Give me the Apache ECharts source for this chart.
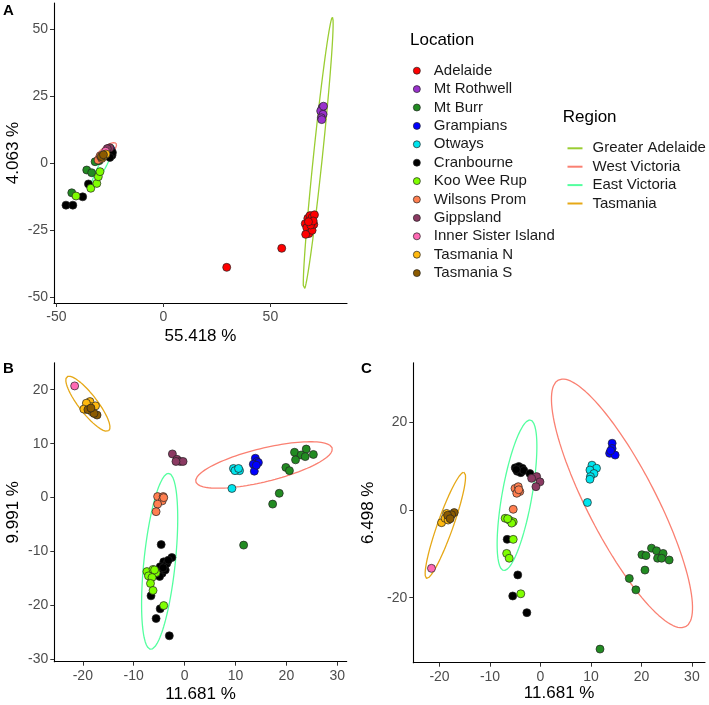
<!DOCTYPE html>
<html>
<head>
<meta charset="utf-8">
<script src="https://cdn.jsdelivr.net/npm/echarts@6/dist/echarts.min.js"></script>
<style>
html,body{margin:0;padding:0;background:#fff;}
#chart{width:709px;height:705px;}
</style>
</head>
<body>
<div id="chart"></div>
<script>
// ---------- categories ----------
const locations = ['Adelaide','Mt Rothwell','Mt Burr','Grampians','Otways','Cranbourne','Koo Wee Rup','Wilsons Prom','Gippsland','Inner Sister Island','Tasmania N','Tasmania S'];
const locationColors = ['#FF0000','#9932CC','#228B22','#0000FF','#00E5EE','#000000','#7FFF00','#FF7F50','#8B3A62','#FF69B4','#FFB90F','#8B5A00'];
const regions = ['Greater Adelaide','West Victoria','East Victoria','Tasmania'];
const regionColors = ['#9ACD32','#FA8072','#54FF9F','#E6A817'];

// ---------- axis titles & ticks ----------
const axisTitlesA = ['55.418 %','4.063 %'];
const axisTitlesB = ['11.681 %','9.991 %'];
const axisTitlesC = ['11.681 %','6.498 %'];
const ticksAx = [-50,0,50];
const ticksAy = [-50,-25,0,25,50];
const ticksBx = [-20,-10,0,10,20,30];
const ticksBy = [-30,-20,-10,0,10,20];
const ticksCx = [-20,-10,0,10,20,30];
const ticksCy = [-20,0,20];

// ---------- Panel A points (PC1 vs PC2) ----------
const A_Adelaide = [[29.6,-38.8],[55.3,-31.7],[66.3,-22.5],[67.5,-20.5],[68.5,-19.5],[69.5,-20.2],[70.6,-19.2],[67.0,-24.0],[68.0,-26.2],[69.5,-25.0],[70.3,-22.8],[66.5,-26.5],[68.8,-23.0],[70.0,-21.5],[67.8,-21.8]];
const A_MtRothwell = [[74.2,20.8],[73.5,19.5],[74.6,18.3],[73.8,17.0],[74.8,21.3],[74.0,16.3]];
const A_MtBurr = [[-42.8,-11.0],[-35.8,-2.5],[-33.5,-3.5],[-31.9,0.6],[-30.0,1.0]];
const A_Grampians = [[-25.5,4.5],[-24.5,5.2],[-26.0,4.8]];
const A_Otways = [[-26.0,3.8],[-27.0,3.2]];
const A_Cranbourne = [[-45.5,-15.6],[-42.3,-15.6],[-37.7,-12.5],[-35.0,-7.7],[-24.0,3.0],[-23.8,4.0],[-25.0,2.2]];
const A_KooWeeRup = [[-40.8,-12.2],[-33.9,-9.3],[-31.1,-7.5],[-30.4,-5.0],[-29.6,-3.1]];
const A_WilsonsProm = [[-30.5,1.2],[-29.5,2.8],[-28.8,1.8]];
const A_Gippsland = [[-25.0,5.8],[-26.2,5.5]];
const A_InnerSister = [[-27.0,4.5]];
const A_TasmaniaN = [[-28.5,2.2],[-27.8,2.8],[-26.8,3.5]];
const A_TasmaniaS = [[-29.0,2.5],[-28.0,3.2]];

// ---------- Panel B points ----------
const B_MtBurr = [[21.6,8.4],[23.9,9.0],[25.3,8.0],[22.9,7.9],[23.7,7.6],[21.8,7.0],[19.9,5.6],[20.6,5.0],[18.6,0.8],[17.3,-1.2],[11.6,-8.8]];
const B_Grampians = [[13.9,7.3],[14.2,6.7],[14.5,6.5],[13.5,6.2],[13.7,4.9],[14.1,6.0]];
const B_Otways = [[9.6,5.4],[10.3,5.1],[10.8,5.0],[9.9,5.0],[10.6,5.4],[9.3,1.7]];
const B_Cranbourne = [[-4.6,-8.7],[-2.5,-11.1],[-4.1,-11.9],[-4.8,-12.8],[-4.4,-14.0],[-4.9,-14.6],[-3.8,-13.4],[-3.5,-12.2],[-3.2,-11.6],[-4.2,-13.0],[-6.6,-18.2],[-4.8,-20.6],[-5.6,-22.4],[-3.0,-25.6]];
const B_KooWeeRup = [[-7.4,-13.7],[-6.2,-13.3],[-5.6,-13.9],[-7.1,-14.5],[-6.4,-14.8],[-6.7,-15.9],[-6.2,-17.2],[-4.1,-20.0],[-5.9,-13.4]];
const B_WilsonsProm = [[-5.3,0.2],[-4.2,0.2],[-4.4,-0.6],[-5.3,-1.2],[-5.6,-2.6],[-4.1,0.0]];
const B_Gippsland = [[-2.4,8.1],[-1.5,7.1],[-0.85,6.7],[-0.3,6.7],[-1.7,6.7]];
const B_InnerSister = [[-21.6,20.7]];
const B_TasmaniaN = [[-18.6,17.8],[-19.5,16.4],[-18.5,16.9],[-17.5,17.0],[-18.2,15.9],[-19.3,17.5],[-19.8,16.4]];
const B_TasmaniaS = [[-17.2,15.3],[-17.8,15.6],[-19.0,16.3],[-18.4,16.6]];

// ---------- Panel C points ----------
const C_MtBurr = [[22.0,-8.7],[23.0,-9.3],[24.3,-9.9],[20.1,-10.2],[20.9,-10.4],[23.2,-11.0],[24.0,-11.0],[25.5,-11.4],[20.7,-13.7],[17.6,-15.6],[18.9,-18.2],[11.8,-31.7]];
const C_Grampians = [[14.2,15.2],[14.2,14.0],[13.7,12.9],[14.8,12.5],[13.9,13.5]];
const C_Otways = [[10.2,10.2],[11.1,9.5],[9.8,9.1],[10.6,8.3],[9.9,7.6],[9.8,7.0],[9.3,1.7]];
const C_Cranbourne = [[-5.0,9.6],[-4.3,9.9],[-3.6,9.5],[-4.6,8.8],[-3.9,8.5],[-3.3,9.0],[-4.8,9.2],[-2.1,8.3],[-6.6,-6.7],[-4.5,-14.8],[-5.5,-19.6],[-2.7,-23.4]];
const C_KooWeeRup = [[-7.0,-1.9],[-6.2,-2.3],[-5.4,-2.7],[-5.7,-3.0],[-6.5,-2.0],[-5.4,-6.7],[-6.7,-9.9],[-6.2,-11.0],[-3.9,-19.1]];
const C_WilsonsProm = [[-5.05,4.9],[-4.4,5.3],[-4.1,4.2],[-4.7,3.8],[-4.3,4.6],[-5.4,0.15]];
const C_Gippsland = [[-0.76,7.6],[-1.75,7.2],[-0.1,6.4],[-0.9,5.3]];
const C_InnerSister = [[-21.6,-13.3]];
const C_TasmaniaN = [[-19.6,-2.9],[-18.6,-0.8],[-17.9,-1.5],[-18.9,-1.9],[-18.3,-2.3]];
const C_TasmaniaS = [[-17.1,-0.6],[-17.6,-1.1],[-18.4,-1.2],[-17.9,-2.0]];

// ---------- region ellipses: [cx, cy, ux, uy, vx, vy] (centre, semi-axis vectors) ----------
const A_ellipses = [[72.35,3.6,6.65,50.9,2.1,0],[-27.0,4.05,4.9,3.45,1.54,-1.4],[-28.45,-0.95,5.05,7.75,1.45,-0.6],[-27.5,3.2,2.0,1.6,0.6,-0.6]];
const B_ellipses = [null,[15.6,6.05,13.4,3.09,0.77,-3.0],[-4.9,-11.8,1.73,16.3,3.1,0],[-19.0,17.4,4.1,-5.0,-1.43,-1.04]];
const C_ellipses = [null,[16.15,1.5,12.6,-28.1,-6.05,-3.59],[-4.65,3.35,2.55,17.15,3.0,0],[-18.85,-3.5,3.65,12.1,1.65,0]];

const panelPoints = [
  [A_Adelaide,A_MtRothwell,A_MtBurr,A_Grampians,A_Otways,A_Cranbourne,A_KooWeeRup,A_WilsonsProm,A_Gippsland,A_InnerSister,A_TasmaniaN,A_TasmaniaS],
  [[],[],B_MtBurr,B_Grampians,B_Otways,B_Cranbourne,B_KooWeeRup,B_WilsonsProm,B_Gippsland,B_InnerSister,B_TasmaniaN,B_TasmaniaS],
  [[],[],C_MtBurr,C_Grampians,C_Otways,C_Cranbourne,C_KooWeeRup,C_WilsonsProm,C_Gippsland,C_InnerSister,C_TasmaniaN,C_TasmaniaS]
];
const panelEllipses = [A_ellipses,B_ellipses,C_ellipses];

function ellipseOutline(p){
  const pts=[]; const n=120;
  for(let k=0;k<=n;k++){
    const t=2*Math.PI*k/n;
    pts.push([p[0]+Math.cos(t)*p[2]+Math.sin(t)*p[4], p[1]+Math.cos(t)*p[3]+Math.sin(t)*p[5]]);
  }
  return pts;
}

const FONT='Liberation Sans, Arial, Helvetica, sans-serif';
const grids=[
  {left:54,top:3,width:293,height:300},
  {left:54.3,top:362.7,width:292.4,height:299},
  {left:413.3,top:362.7,width:291.7,height:300}
];
const xr=[[-51.1,85.8],[-25.6,31.85],[-25.2,32.6]];
const yr=[[-52.1,59.8],[-30.4,25.0],[-34.8,33.55]];
const xt=[ticksAx,ticksBx,ticksCx];
const yt=[ticksAy,ticksBy,ticksCy];
const titles=[axisTitlesA,axisTitlesB,axisTitlesC];
const xGap=[25,24,22];
const yGap=[32,32,36];

function axis(i,isX){
  const t = isX? xt[i] : yt[i];
  return {
    type:'value', gridIndex:i,
    min: isX? xr[i][0]:yr[i][0], max: isX? xr[i][1]:yr[i][1],
    name: isX? titles[i][0] : titles[i][1],
    nameLocation:'middle', nameGap: isX? xGap[i]:yGap[i],
    nameTextStyle:{fontFamily:FONT,fontSize:17,color:'#000'},
    axisLine:{show:true,onZero:false,lineStyle:{color:'#000',width:1.1}},
    axisTick:{show:true,length:4,customValues:t,lineStyle:{color:'#333',width:1}},
    axisLabel:{customValues:t,fontFamily:FONT,fontSize:14,color:'#4D4D4D',margin:isX?7:6},
    splitLine:{show:false}
  };
}

const series=[];
for(let p=0;p<3;p++){
  panelEllipses[p].forEach((e,r)=>{
    if(!e) return;
    series.push({type:'line',name:regions[r],xAxisIndex:p,yAxisIndex:p,data:ellipseOutline(e),
      showSymbol:false,symbol:'none',color:regionColors[r],lineStyle:{color:regionColors[r],width:1.3},z:2,silent:true,animation:false});
  });
  panelPoints[p].forEach((pts,i)=>{
    if(!pts.length) return;
    series.push({type:'scatter',name:locations[i],xAxisIndex:p,yAxisIndex:p,data:pts,symbolSize:8,
      itemStyle:{color:locationColors[i],borderColor:'#222',borderWidth:0.7,opacity:1},z:3});
  });
}

const chart=echarts.init(document.getElementById('chart'),null,{renderer:'canvas'});
chart.setOption({
  animation:false,
  backgroundColor:'#fff',
  grid:grids,
  xAxis:[axis(0,true),axis(1,true),axis(2,true)],
  yAxis:[axis(0,false),axis(1,false),axis(2,false)],
  legend:[
    {orient:'vertical',left:408,top:56.7,itemWidth:24,itemHeight:7,itemGap:0.4,icon:'circle',
     selectedMode:false,
     textStyle:{fontFamily:FONT,fontSize:15,lineHeight:18,color:'#1a1a1a'},
     data:locations.map((n,i)=>({name:n,itemStyle:{color:locationColors[i],borderColor:'#222',borderWidth:0.7}}))},
    {orient:'vertical',left:562.5,top:134.3,itemWidth:15,itemHeight:2,itemGap:0.4,icon:'rect',
     selectedMode:false,
     textStyle:{fontFamily:FONT,fontSize:15,lineHeight:18,color:'#1a1a1a',padding:[0,0,0,5]},
     data:regions.map((n,i)=>({name:n,itemStyle:{color:regionColors[i],borderWidth:0}}))}
  ],
  graphic:[
    {type:'text',left:3,top:3,style:{text:'A',fontFamily:FONT,fontSize:15,fontWeight:'bold',fill:'#000'}},
    {type:'text',left:3,top:361,style:{text:'B',fontFamily:FONT,fontSize:15,fontWeight:'bold',fill:'#000'}},
    {type:'text',left:361,top:361,style:{text:'C',fontFamily:FONT,fontSize:15,fontWeight:'bold',fill:'#000'}},
    {type:'text',left:410,top:32,style:{text:'Location',fontFamily:FONT,fontSize:17,fill:'#000'}},
    {type:'text',left:562.7,top:109,style:{text:'Region',fontFamily:FONT,fontSize:17,fill:'#000'}}
  ],
  series:series
});
</script>
</body>
</html>
